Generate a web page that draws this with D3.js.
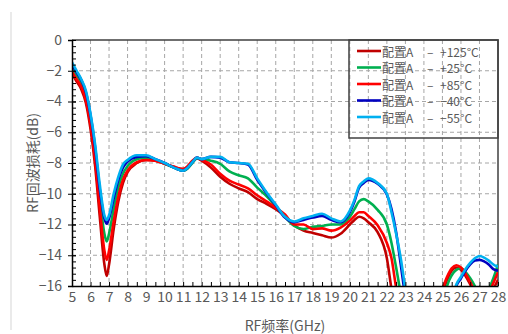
<html>
<head>
<meta charset="utf-8">
<script src="https://d3js.org/d3.v7.min.js"></script>
<style>
  body { margin: 0; background: #fff; }
  text { font-family: "Noto Sans CJK SC", "Noto Sans", sans-serif; fill: #595959; }
</style>
</head>
<body>
<div id="chart"></div>
<script>
// frequency points (GHz), shared by all series
var freq = [5, 5.25, 5.5, 5.75, 6, 6.25, 6.5, 6.75, 6.875, 7,
  7.25, 7.5, 7.75, 8, 8.5, 9, 9.5, 10, 10.5, 11, 11.25, 11.5, 11.75, 12,
  12.5, 13, 13.5, 14, 14.5, 15, 15.5, 16, 16.5, 17, 17.5, 18, 18.5, 19, 19.5, 20,
  20.25, 20.5, 20.75, 21, 21.5, 22, 22.25, 22.5, 22.75, 23, 23.25, 24,
  25, 25.25, 25.5, 25.75, 26, 26.25, 26.5, 26.75, 27, 27.25, 27.5, 27.75, 28];

// return loss (dB)
var rl125 = [-2.2, -2.7, -3.2, -4.1, -5.8, -8.2, -11.5, -14.6, -15.35, -14.6,
  -12.3, -10.5, -9.3, -8.6, -8.0, -7.8, -7.85, -8.05, -8.25, -8.4, -8.25, -7.9, -7.7, -7.85,
  -8.3, -8.9, -9.35, -9.65, -9.9, -10.35, -10.65, -11.0, -11.45, -12.05, -12.4, -12.55, -12.7, -12.85, -12.6, -12.0,
  -11.7, -11.5, -11.6, -11.85, -12.5, -14.2, -16.2, -18, null, null, null, null,
  -16.5, -15.6, -15.0, -14.8, -14.95, -15.35, -15.9, -16.5, -17.2, -17.2, -16.8, -16.2, -15.6];

var rl25 = [-1.75, -2.3, -2.8, -3.6, -5.1, -7.3, -10.2, -12.6, -13.1, -12.6,
  -11.0, -9.6, -8.7, -8.2, -7.75, -7.65, -7.8, -8.05, -8.3, -8.5, -8.35, -8.0, -7.7, -7.75,
  -7.85, -8.05, -8.55, -8.8, -9.0, -9.6, -10.15, -10.8, -11.5, -12.1, -12.3, -12.15, -12.1, -12.0, -12.0, -11.5,
  -11.0, -10.5, -10.35, -10.5, -11.05, -12.0, -13.2, -14.8, -16.5, null, null, null,
  -17.5, -16.0, -15.3, -14.95, -14.85, -15.1, -15.5, -16.0, -16.6, -16.6, -16.2, -15.5, -14.6];

var rl85 = [-2.05, -2.55, -3.05, -3.9, -5.5, -7.8, -10.9, -13.7, -14.3, -13.7,
  -11.8, -10.2, -9.1, -8.5, -7.95, -7.8, -7.85, -8.05, -8.25, -8.4, -8.2, -7.85, -7.65, -7.8,
  -8.1, -8.7, -9.15, -9.4, -9.65, -10.1, -10.5, -10.9, -11.35, -12.0, -12.0, -12.3, -12.25, -12.4, -12.2, -11.75,
  -11.45, -11.2, -11.2, -11.45, -12.05, -13.2, -14.2, -16.1, -17.5, null, null, null,
  -16.2, -15.4, -14.85, -14.65, -14.8, -15.2, -15.75, -16.4, -17, -17, -16.5, -15.8, -15.1];

var rlm40 = [-1.6, -2.1, -2.6, -3.4, -4.9, -7.0, -9.7, -11.6, -11.95, -11.6,
  -10.3, -9.1, -8.3, -7.9, -7.6, -7.55, -7.75, -8.0, -8.3, -8.5, -8.3, -7.95, -7.65, -7.75,
  -7.6, -7.65, -7.95, -8.0, -8.1, -9.1, -9.95, -10.75, -11.55, -11.85, -11.7, -11.55, -11.45, -11.7, -11.85, -11.2,
  -10.5, -9.6, -9.3, -9.1, -9.35, -10.05, -11.0, -12.5, -14.6, -16.8, null, null,
  null, null, -17, -16.0, -15.5, -15.0, -14.6, -14.35, -14.3, -14.4, -14.6, -14.9, -15.0];

var rlm55 = [-1.45, -2.0, -2.55, -3.3, -4.8, -6.8, -9.4, -11.4, -11.7, -11.4,
  -10.0, -8.9, -8.1, -7.8, -7.5, -7.5, -7.75, -8.0, -8.3, -8.5, -8.3, -7.95, -7.65, -7.75,
  -7.6, -7.6, -7.95, -8.0, -8.05, -9.0, -9.9, -10.7, -11.5, -11.8, -11.6, -11.45, -11.3, -11.6, -11.8, -11.1,
  -10.4, -9.5, -9.2, -9.0, -9.3, -10.0, -11.2, -12.6, -14.2, -16.3, null, null,
  null, null, -17, -15.9, -15.4, -14.9, -14.5, -14.2, -14.05, -14.15, -14.35, -14.6, -14.75];

var seriesNames = ["+125°C", "+25°C", "+85°C", "\u221240°C", "\u221255°C"];
var seriesColors = ["#c00000", "#00b050", "#ff0000", "#0000c0", "#00b0f0"];
var seriesData = [rl125, rl25, rl85, rlm40, rlm55];

var xTicks = d3.range(5, 29, 1);
var yTicks = d3.range(-16, 1, 2);

var width = 508, height = 334;
var plotL = 72, plotR = 498, plotT = 40, plotB = 286;

var svg = d3.select("#chart").append("svg")
    .attr("width", width)
    .attr("height", height);

// faint page edge on the left
svg.append("line")
    .attr("x1", 11).attr("x2", 11).attr("y1", 12).attr("y2", 330)
    .attr("stroke", "#e3e3e3").attr("stroke-width", 1.5);

var x = d3.scaleLinear().domain([5, 28]).range([plotL, plotR]);
var y = d3.scaleLinear().domain([-16, 0]).range([plotB, plotT]);

// grid
svg.append("g").selectAll("line")
    .data(xTicks.filter(function(d) { return d > 5 && d < 28; }))
    .enter().append("line")
    .attr("x1", function(d) { return x(d); }).attr("x2", function(d) { return x(d); })
    .attr("y1", plotT).attr("y2", plotB)
    .attr("stroke", "#a6a6a6").attr("stroke-dasharray", "4,3");

svg.append("g").selectAll("line")
    .data(yTicks.filter(function(d) { return d > -16 && d < 0; }))
    .enter().append("line")
    .attr("x1", plotL).attr("x2", plotR)
    .attr("y1", function(d) { return y(d); }).attr("y2", function(d) { return y(d); })
    .attr("stroke", "#a6a6a6").attr("stroke-dasharray", "4,3");

// frame top/right
svg.append("path")
    .attr("d", "M" + plotL + "," + plotT + "H" + plotR + "V" + plotB)
    .attr("fill", "none").attr("stroke", "#404040").attr("stroke-width", 1.5);

// curves
svg.append("clipPath").attr("id", "clip")
  .append("rect").attr("x", plotL).attr("y", plotT)
    .attr("width", plotR - plotL).attr("height", plotB - plotT);

var line = d3.line()
    .defined(function(d) { return d[1] !== null; })
    .x(function(d) { return x(d[0]); })
    .y(function(d) { return y(d[1]); })
    .curve(d3.curveMonotoneX);

var curves = svg.append("g").attr("clip-path", "url(#clip)");
seriesData.forEach(function(vals, i) {
    curves.append("path")
        .datum(freq.map(function(f, j) { return [f, vals[j]]; }))
        .attr("fill", "none")
        .attr("stroke", seriesColors[i])
        .attr("stroke-width", 2.6)
        .attr("stroke-linejoin", "round")
        .attr("d", line);
});

// Y axis
var yAxis = svg.append("g")
    .attr("transform", "translate(" + plotL + ",0)")
    .call(d3.axisLeft(y).tickValues(yTicks).tickSize(4).tickPadding(6));
yAxis.selectAll(".tick line").attr("x2", 4).attr("x1", -4);
svg.append("g")
    .attr("transform", "translate(" + plotL + ",0)")
    .call(d3.axisRight(y).tickValues(d3.range(-16, 0.01, 0.4)).tickSize(4).tickFormat(""))
    .select(".domain").remove();

// X axis
var xAxis = svg.append("g")
    .attr("transform", "translate(0," + plotB + ")")
    .call(d3.axisBottom(x).tickValues(xTicks).tickSize(0).tickPadding(6));
svg.append("g")
    .attr("transform", "translate(0," + plotB + ")")
    .call(d3.axisTop(x).tickValues(d3.range(5, 28.01, 0.5)).tickSize(4).tickFormat(""))
    .select(".domain").remove();

svg.selectAll(".domain").attr("stroke", "#000").attr("stroke-width", 1.5);
svg.selectAll(".tick line").attr("stroke", "#000");
svg.selectAll(".tick text")
    .style("font-family", "'Noto Sans CJK SC', sans-serif")
    .style("font-size", "14px")
    .attr("fill", "#595959");

// axis titles
svg.append("text")
    .attr("transform", "translate(32," + ((plotT + plotB) / 2) + ") rotate(-90)")
    .attr("text-anchor", "middle")
    .attr("dominant-baseline", "central")
    .style("font-size", "14px")
    .text("RF回波损耗(dB)");

svg.append("text")
    .attr("x", (plotL + plotR) / 2)
    .attr("y", 325)
    .attr("text-anchor", "middle")
    .attr("dominant-baseline", "central")
    .style("font-size", "14px")
    .text("RF频率(GHz)");

// legend
svg.append("rect")
    .attr("x", 349).attr("y", plotT).attr("width", plotR - 349).attr("height", 98)
    .attr("fill", "none").attr("stroke", "#404040").attr("stroke-width", 1.5);

seriesNames.forEach(function(name, i) {
    var ly = 51 + i * 16.5;
    svg.append("line")
        .attr("x1", 357).attr("x2", 381).attr("y1", ly).attr("y2", ly)
        .attr("stroke", seriesColors[i]).attr("stroke-width", 2.6);
    var g = svg.append("g").attr("transform", "translate(0," + ly + ")");
    g.append("text").attr("x", 382).attr("dominant-baseline", "central")
        .style("font-size", "12px").text("配置A");
    g.append("text").attr("x", 427).attr("dominant-baseline", "central")
        .style("font-size", "12px").text("\u2013");
    g.append("text").attr("x", 440).attr("dominant-baseline", "central")
        .style("font-size", "12px").text(name);
});
</script>
</body>
</html>
